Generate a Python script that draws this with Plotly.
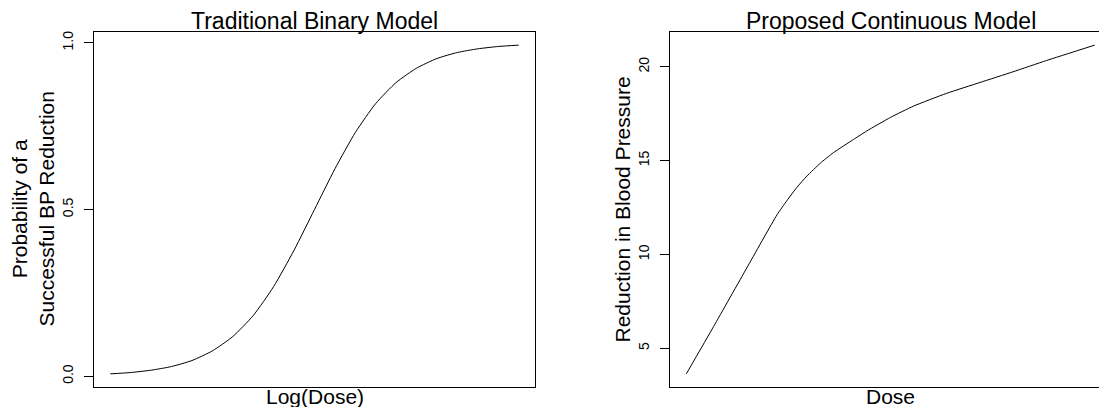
import plotly.graph_objects as go

# Traditional binary model: probability of a successful BP reduction vs log(dose)
log_dose = [-5.0, -4.5, -4.0, -3.5, -3.0, -2.5, -2.0, -1.5, -1.0, -0.5, 0.0,
            0.5, 1.0, 1.5, 2.0, 2.5, 3.0, 3.5, 4.0, 4.5, 5.0]
prob_success = [0.007, 0.011, 0.018, 0.029, 0.047, 0.076, 0.119, 0.182, 0.269,
                0.378, 0.500, 0.622, 0.731, 0.818, 0.881, 0.924, 0.953, 0.971,
                0.982, 0.989, 0.993]

# Proposed continuous model: reduction in blood pressure vs dose
dose = [0.0, 0.67, 1.48, 2.22, 2.46, 2.71, 2.95, 3.28, 3.6, 4.09, 4.42, 5.0,
        5.56, 6.37, 7.19, 8.0, 8.82, 10.0]
bp_reduction = [3.64, 6.17, 9.28, 12.11, 12.86, 13.58, 14.17, 14.86, 15.42,
                16.12, 16.58, 17.30, 17.90, 18.58, 19.16, 19.73, 20.33, 21.15]

left_ticks = [0.0, 0.5, 1.0]
left_ticktext = ["0.0", "0.5", "1.0"]
right_ticks = [5, 10, 15, 20]
right_ticktext = ["5", "10", "15", "20"]

W, H = 1099, 407
FONT = "Liberation Sans, Arial, Helvetica, sans-serif"


def px(x):
    return x / W


def py(y):
    return 1 - y / H


def padded(lo, hi):
    pad = 0.04 * (hi - lo)
    return [lo - pad, hi + pad]


fig = go.Figure()

fig.add_trace(go.Scatter(
    x=log_dose, y=prob_success, mode="lines",
    line=dict(color="black", width=1, shape="spline", smoothing=0.6),
    xaxis="x", yaxis="y", showlegend=False, hoverinfo="skip"))

fig.add_trace(go.Scatter(
    x=dose, y=bp_reduction, mode="lines",
    line=dict(color="black", width=1, shape="spline", smoothing=0.5),
    xaxis="x2", yaxis="y2", showlegend=False, hoverinfo="skip"))

# right panel is wider than the page: its box runs past the right edge
right_x_full = padded(min(dose), max(dose))
right_box_px = 441.0
visible_px = W - 670
right_x_range = [right_x_full[0],
                 right_x_full[0] + (right_x_full[1] - right_x_full[0]) * visible_px / right_box_px]

axis_common = dict(showgrid=False, zeroline=False, linecolor="black", linewidth=1)

fig.update_layout(
    width=W, height=H,
    margin=dict(l=0, r=0, t=0, b=0),
    paper_bgcolor="white", plot_bgcolor="white",
    font=dict(family=FONT, color="black"),
    xaxis=dict(domain=[px(94), px(535)], range=padded(min(log_dose), max(log_dose)),
               showline=True, mirror=True, showticklabels=False, ticks="",
               anchor="y", **axis_common),
    yaxis=dict(domain=[1 - 387 / H, 1 - 32 / H], range=padded(min(prob_success), max(prob_success)),
               showline=True, mirror=True, ticks="outside", ticklen=9,
               tickcolor="black", tickwidth=1,
               tickvals=left_ticks, ticktext=left_ticktext, tickangle=-90,
               tickfont=dict(size=14, family=FONT, color="black"),
               ticklabelstandoff=5, anchor="x", **axis_common),
    xaxis2=dict(domain=[px(670), 1.0], range=right_x_range,
                showline=True, mirror=True, showticklabels=False, ticks="",
                anchor="y2", **axis_common),
    yaxis2=dict(domain=[1 - 387 / H, 1 - 32 / H], range=padded(min(bp_reduction), max(bp_reduction)),
                showline=True, mirror=False, ticks="outside", ticklen=9,
                tickcolor="black", tickwidth=1,
                tickvals=right_ticks, ticktext=right_ticktext, tickangle=-90,
                tickfont=dict(size=14, family=FONT, color="black"),
                ticklabelstandoff=5, anchor="x2", **axis_common),
)

annotations = [
    dict(text="Traditional Binary Model", x=px(314.5), y=py(21), size=23, angle=0),
    dict(text="Proposed Continuous Model", x=px(890.5), y=py(21), size=23, angle=0),
    dict(text="Log(Dose)", x=px(314.5), y=py(396), size=21, angle=0),
    dict(text="Dose", x=px(890.5), y=py(396), size=21, angle=0),
    dict(text="Probability of a<br>Successful BP Reduction", x=px(32), y=py(209.5), size=21, angle=-90),
    dict(text="Reduction in Blood Pressure", x=px(622), y=py(209.5), size=21, angle=-90),
]
for a in annotations:
    fig.add_annotation(
        text=a["text"], x=a["x"], y=a["y"], xref="paper", yref="paper",
        xanchor="center", yanchor="middle", showarrow=False,
        textangle=a["angle"], font=dict(size=a["size"], family=FONT, color="black"))

fig.write_html("out.html")
